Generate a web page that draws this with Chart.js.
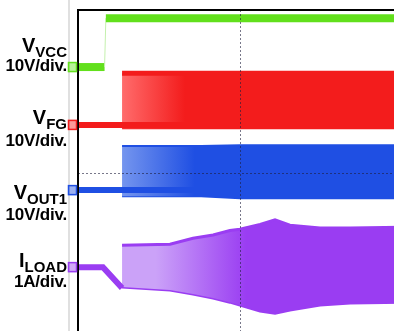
<!DOCTYPE html>
<html>
<head>
<meta charset="utf-8">
<script src="https://cdn.jsdelivr.net/npm/chart.js@4.4.0/dist/chart.umd.min.js"></script>
<style>
  html, body { margin: 0; padding: 0; background: #fff; overflow: hidden; width: 394px; height: 331px; }
  #wrap { position: absolute; left: 0; top: 0; width: 402px; height: 336px; }
  .lbl { position: absolute; left: 0; width: 67px; text-align: right; font-family: "Liberation Sans", Arial, sans-serif; font-weight: bold; color: #000; white-space: nowrap; }
  .name { font-size: 20px; line-height: 20px; }
  .name sub { font-size: 15px; vertical-align: -5px; line-height: 0; }
  .scale { font-size: 17px; line-height: 17px; letter-spacing: -0.2px; }
</style>
</head>
<body>
<div id="wrap"><canvas id="scope" width="402" height="336"></canvas></div>

<div class="lbl name" style="top:35px">V<sub>VCC</sub></div>
<div class="lbl scale" style="top:57px">10V/div.</div>
<div class="lbl name" style="top:107px">V<sub>FG</sub></div>
<div class="lbl scale" style="top:132px">10V/div.</div>
<div class="lbl name" style="top:182px">V<sub>OUT1</sub></div>
<div class="lbl scale" style="top:206px">10V/div.</div>
<div class="lbl name" style="top:250px">I<sub>LOAD</sub></div>
<div class="lbl scale" style="top:273px">1A/div.</div>

<script>
// time axis in scope divisions (left edge = 0)
// channel traces in their own units (V or A)

// V_VCC, 10V/div
const vccTime = [0, 0.82, 0.86, 10];
const vccVolts = [0, 0, 12, 12];

// V_FG, 10V/div
const fgBaseTime = [0, 10];
const fgBaseVolts = [0, 0];
const fgTime = [1.36, 10];
const fgHigh = [12.7, 12.7];
const fgLow = [-0.8, -0.8];

// V_OUT1, 10V/div
const outBaseTime = [0, 10];
const outBaseVolts = [0, 0];
const outTime = [1.36, 3.8, 5.0, 10];
const outHigh = [10.8, 10.8, 11.0, 11.0];
const outLow = [-1.5, -1.5, -2.0, -2.0];

// I_LOAD, 1A/div
const loadPreTime = [0, 0.77, 1.36];
const loadPreAmps = [0, 0, -0.51];
const loadTime = [1.36, 2.84, 3.55, 4.17, 4.69, 5.0, 5.62, 6.08, 6.54, 7.47, 8.4, 10];
const loadHigh = [0.54, 0.56, 0.71, 0.79, 0.90, 0.93, 1.05, 1.16, 1.03, 0.96, 0.96, 0.98];
const loadLow = [-0.49, -0.56, -0.66, -0.76, -0.86, -0.93, -1.08, -1.13, -1.05, -0.93, -0.88, -0.86];

// zero level of each channel (divisions from bottom) and units per division
const channels = {
  vcc: { zero: 6.60, perDiv: 10, color: '#62e01c' },
  fg: { zero: 5.18, perDiv: 10, color: '#f31c1c' },
  out: { zero: 3.58, perDiv: 10, color: '#1f4fe3' },
  load: { zero: 1.69, perDiv: 1, color: '#9a3df2' }
};

function trace(times, values, ch) {
  return times.map((t, i) => ({ x: t, y: ch.zero + values[i] / ch.perDiv }));
}

const line = (data, color, width, extra) => Object.assign({
  data: data,
  borderColor: color,
  borderWidth: width,
  pointRadius: 0,
  tension: 0,
  fill: false
}, extra || {});

const steep = s => Math.abs(s.p1.parsed.y - s.p0.parsed.y) > 0.3;

const scopeFrame = {
  id: 'scopeFrame',
  beforeDraw(chart) {
    const c = chart.ctx;
    c.save();
    c.strokeStyle = '#d6d6d6';
    c.lineWidth = 1.5;
    c.beginPath();
    c.moveTo(69, 0);
    c.lineTo(69, chart.height);
    c.stroke();
    c.restore();
  },
  beforeDatasetsDraw(chart) {
    // sparse switching at the start, dense further on
    const x = chart.scales.x;
    chart.data.datasets.forEach((ds, i) => {
      if (!ds.band) return;
      const g = chart.ctx.createLinearGradient(x.getPixelForValue(ds.band.from), 0, x.getPixelForValue(ds.band.to), 0);
      g.addColorStop(0, ds.band.light);
      g.addColorStop(1, ds.band.solid);
      chart.getDatasetMeta(i).dataset.options.backgroundColor = g;
    });
  },
  afterDatasetsDraw(chart) {
    const c = chart.ctx;
    const a = chart.chartArea;
    const x = chart.scales.x;
    const y = chart.scales.y;
    c.save();
    // center graticule
    c.strokeStyle = 'rgba(30,30,60,0.6)';
    c.lineWidth = 1;
    c.setLineDash([2, 2]);
    const cx = Math.round(x.getPixelForValue(5)) + 0.5;
    const cy = Math.round(y.getPixelForValue(4)) + 0.5;
    c.beginPath();
    c.moveTo(cx, a.top);
    c.lineTo(cx, a.bottom);
    c.moveTo(a.left, cy);
    c.lineTo(a.right, cy);
    c.stroke();
    c.setLineDash([]);
    // frame
    c.strokeStyle = '#000';
    c.lineWidth = 2;
    c.beginPath();
    c.moveTo(a.left, a.bottom);
    c.lineTo(a.left, a.top);
    c.lineTo(a.right, a.top);
    c.stroke();
    // ground markers
    Object.values(channels).forEach(ch => {
      const py = y.getPixelForValue(ch.zero);
      c.fillStyle = ch.color;
      c.globalAlpha = 0.45;
      c.fillRect(68, py - 5, 9, 10);
      c.globalAlpha = 1;
      c.strokeStyle = ch.color;
      c.lineWidth = 1.5;
      c.strokeRect(68.5, py - 4.5, 8, 9);
    });
    c.restore();
  }
};

document.addEventListener('DOMContentLoaded', () => {
  const ch = channels;
  new Chart(document.getElementById('scope'), {
    type: 'line',
    data: {
      datasets: [
        line(trace(vccTime, vccVolts, ch.vcc), ch.vcc.color, 8, {
          borderCapStyle: 'butt',
          segment: {
            borderWidth: s => steep(s) ? 1 : 8,
            borderColor: s => steep(s) ? '#c4f0ad' : undefined
          }
        }),
        line(trace(fgBaseTime, fgBaseVolts, ch.fg), ch.fg.color, 6),
        line(trace(fgTime, fgHigh, ch.fg), ch.fg.color, 5, {
          fill: '+1',
          backgroundColor: ch.fg.color,
          band: { light: '#ff6a6a', solid: ch.fg.color, from: 1.4, to: 3.3 }
        }),
        line(trace(fgTime, fgLow, ch.fg), ch.fg.color, 2),
        line(trace(outBaseTime, outBaseVolts, ch.out), ch.out.color, 6),
        line(trace(outTime, outHigh, ch.out), ch.out.color, 2, {
          fill: '+1',
          backgroundColor: ch.out.color,
          band: { light: '#7394ee', solid: ch.out.color, from: 1.4, to: 3.6 }
        }),
        line(trace(outTime, outLow, ch.out), ch.out.color, 2),
        line(trace(loadPreTime, loadPreAmps, ch.load), ch.load.color, 6),
        line(trace(loadTime, loadHigh, ch.load), ch.load.color, 3, {
          fill: '+1',
          backgroundColor: ch.load.color,
          band: { light: '#cba2f8', solid: ch.load.color, from: 2.4, to: 5.2 }
        }),
        line(trace(loadTime, loadLow, ch.load), ch.load.color, 3)
      ]
    },
    options: {
      responsive: false,
      animation: false,
      devicePixelRatio: 1,
      layout: { padding: { left: 78, top: 10, right: 0, bottom: 0 } },
      plugins: { legend: { display: false }, tooltip: { enabled: false } },
      scales: {
        x: { type: 'linear', min: 0, max: 10, display: false },
        y: { type: 'linear', min: 0, max: 8, display: false }
      }
    },
    plugins: [scopeFrame]
  });
});
</script>
</body>
</html>
